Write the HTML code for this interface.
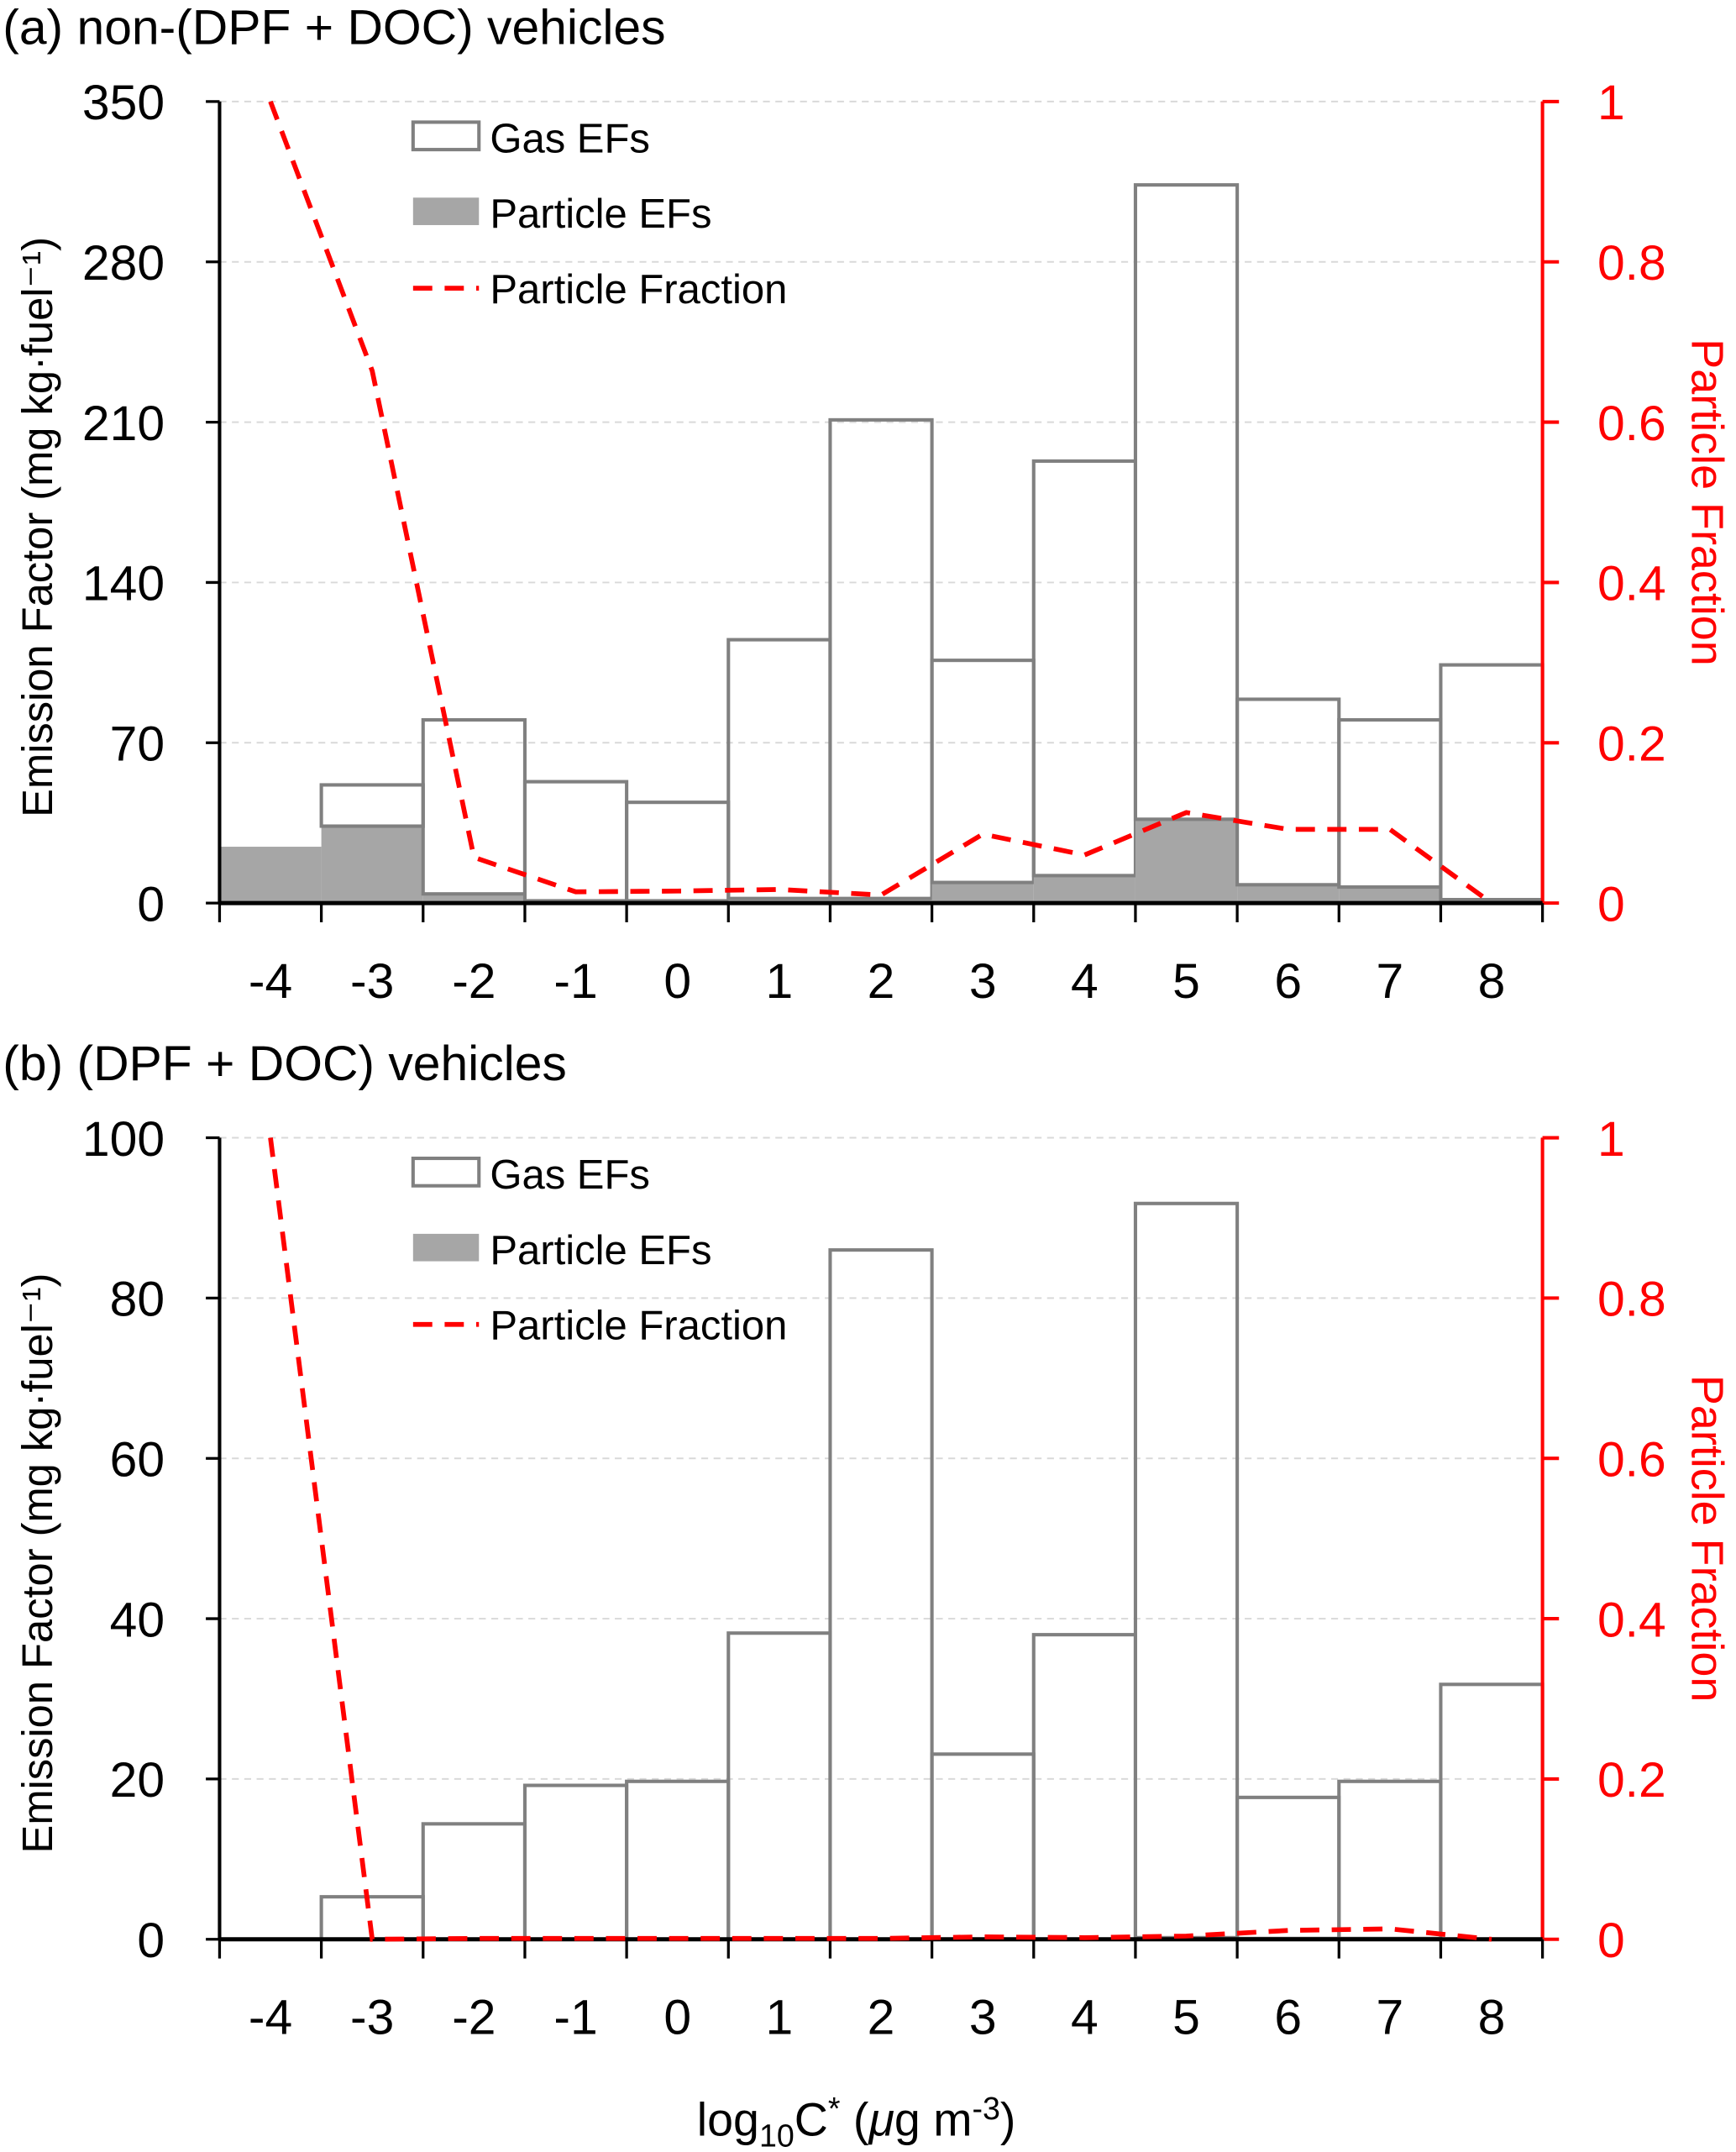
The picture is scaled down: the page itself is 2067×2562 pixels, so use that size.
<!DOCTYPE html>
<html><head><meta charset="utf-8"><style>
html,body{margin:0;padding:0;background:#fff}
svg{display:block}
text{font-family:"Liberation Sans",sans-serif}
</style></head><body>
<svg id="chart" width="2067" height="2562" viewBox="0 0 1265 1568" preserveAspectRatio="none" xmlns="http://www.w3.org/2000/svg">
</svg>
<script>
const categories = [-4,-3,-2,-1,0,1,2,3,4,5,6,7,8];
const gasA = [0,18,76,52,43,113,209,97,181,277,81,73,102.5];
const partA = [24.6,33.6,4,1,1,2,2,9,12,36.6,8,7,1.5];
const fracA = [1.0,0.664,0.057,0.014,0.015,0.017,0.01,0.086,0.06,0.113,0.092,0.092,0];
const gasB = [0,5.3,14.4,19.2,19.7,38.2,86,23.1,38,91.6,17.6,19.6,31.8];
const partB = [0,0,0,0,0,0,0,0,0,0.2,0.1,0.1,0];
const fracB = [1.0,0,0.001,0.001,0.001,0.001,0.001,0.003,0.002,0.004,0.011,0.013,0];
const ticksA = [0,70,140,210,280,350];
const ticksB = [0,20,40,60,80,100];
const ticksR = [0,0.2,0.4,0.6,0.8,1];

const svg = document.getElementById('chart');
const NS = 'http://www.w3.org/2000/svg';
function mk(tag, attrs, parent, txt){
  const e = document.createElementNS(NS, tag);
  for (const k in attrs) e.setAttribute(k, attrs[k]);
  if (txt !== undefined) e.textContent = txt;
  (parent||svg).appendChild(e);
  return e;
}
const L = 160, R = 1124, W = (R-L)/categories.length;

function panel(key, title, y0, yTop, ymax, ticks, gas, part, frac){
  const g = mk('g', {});
  
  
  const y = v => y0 - v/ymax*(y0-yTop);
  const yr = v => y0 - v*(y0-yTop);
  const xc = i => L + (i+0.5)*W;
  const t = mk('text', {x:2, y:yTop-42, 'font-size':36, fill:'#000'}, g, title);
  
  
  ticks.forEach(v => {
    if (v > 0) {
      const gl = mk('line', {x1:L, x2:R, y1:y(v), y2:y(v), stroke:'#d9d9d9', 'stroke-width':1.2, 'stroke-dasharray':'5,4'}, g);
      
      
    }
    const tk = mk('line', {x1:L-10, x2:L, y1:y(v), y2:y(v), stroke:'#000', 'stroke-width':2}, g);
    
    
    const lb = mk('text', {x:L-40, y:y(v)+13, 'font-size':36, 'text-anchor':'end', fill:'#000'}, g, v);
    
    
  });
  ticksR.forEach(v => {
    const tk = mk('line', {x1:R, x2:R+12, y1:yr(v), y2:yr(v), stroke:'#f00', 'stroke-width':2.5}, g);
    
    
    const lb = mk('text', {x:R+40, y:yr(v)+13, 'font-size':36, fill:'#f00'}, g, v);
    
    
  });
  categories.forEach((c,i) => {
    const x0 = L + i*W;
    if (part[i] > 0) {
      const pb = mk('rect', {x:x0, y:y(part[i]), width:W, height:y0-y(part[i]), fill:'#a6a6a6'}, g);
      
      
    }
    if (gas[i] > 0) {
      const top = y(part[i]+gas[i]), bot = y(part[i]);
      const gb = mk('rect', {x:x0, y:top, width:W, height:bot-top, fill:'none', stroke:'#808080', 'stroke-width':2.5}, g);
      
      
    }
    const xt = mk('line', {x1:x0, x2:x0, y1:y0, y2:y0+14, stroke:'#000', 'stroke-width':2}, g);
    
    
    const xl = mk('text', {x:xc(i), y:y0+69, 'font-size':36, 'text-anchor':'middle', fill:'#000'}, g, c);
    
    
  });
  const xe = mk('line', {x1:R, x2:R, y1:y0, y2:y0+14, stroke:'#000', 'stroke-width':2}, g);
  
  
  const ax = mk('line', {x1:L, x2:L, y1:yTop, y2:y0, stroke:'#000', 'stroke-width':2.5}, g);
  
  
  const ar = mk('line', {x1:R, x2:R, y1:yTop, y2:y0, stroke:'#f00', 'stroke-width':2.5}, g);
  
  
  const xa = mk('line', {x1:L, x2:R, y1:y0, y2:y0, stroke:'#000', 'stroke-width':3}, g);
  
  
  const pts = frac.map((v,i) => xc(i)+','+yr(v)).join(' ');
  const pl = mk('polyline', {points:pts, fill:'none', stroke:'#f00', 'stroke-width':3.5, 'stroke-dasharray':'14,9'}, g);
  
  
  const ym = (y0+yTop)/2;
  const yt = mk('text', {x:0, y:0, 'font-size':31, 'text-anchor':'middle', transform:'translate(38,'+(ym+18)+') rotate(-90)', fill:'#000'}, g, 'Emission Factor (mg kg·fuel⁻¹)');
  
  
  const rt = mk('text', {x:0, y:0, 'font-size':33, 'text-anchor':'middle', transform:'translate(1233,'+(ym-0)+') rotate(90)', fill:'#f00'}, g, 'Particle Fraction');
  
  
  const lx = 301, ly = yTop + 15;
  const l1 = mk('rect', {x:lx, y:ly, width:48, height:20, fill:'none', stroke:'#808080', 'stroke-width':2.5}, g);
  
  
  const t1 = mk('text', {x:lx+56, y:ly+22, 'font-size':30, fill:'#000'}, g, 'Gas EFs');
  
  
  const l2 = mk('rect', {x:lx, y:ly+55, width:48, height:20, fill:'#a6a6a6'}, g);
  
  
  const t2 = mk('text', {x:lx+56, y:ly+77, 'font-size':30, fill:'#000'}, g, 'Particle EFs');
  
  
  const l3 = mk('line', {x1:lx, x2:lx+48, y1:ly+121, y2:ly+121, stroke:'#f00', 'stroke-width':3.5, 'stroke-dasharray':'14,9'}, g);
  
  
  const t3 = mk('text', {x:lx+56, y:ly+132, 'font-size':30, fill:'#000'}, g, 'Particle Fraction');
  
  
}
panel('a', '(a) non-(DPF + DOC) vehicles', 658, 74, 350, ticksA, gasA, partA, fracA);
panel('b', '(b) (DPF + DOC) vehicles', 1413, 829, 100, ticksB, gasB, partB, fracB);

const xt = mk('text', {x:624, y:1556, 'font-size':34, 'text-anchor':'middle', fill:'#000'});


mk('tspan', {}, xt, 'log');
mk('tspan', {dy:8, 'font-size':23}, xt, '10');
mk('tspan', {dy:-8}, xt, 'C');
mk('tspan', {dy:-12, 'font-size':23}, xt, '*');
mk('tspan', {dy:12}, xt, ' (');
mk('tspan', {'font-style':'italic'}, xt, 'μ');
mk('tspan', {}, xt, 'g m');
mk('tspan', {dy:-12, 'font-size':23}, xt, '-3');
mk('tspan', {dy:12}, xt, ')');
</script>
</body></html>
